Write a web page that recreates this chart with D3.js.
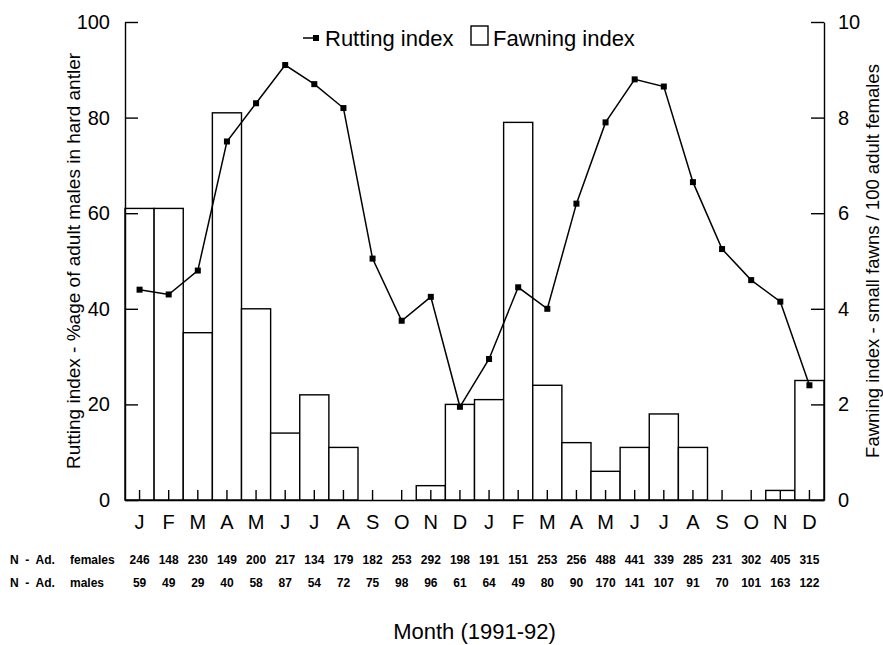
<!DOCTYPE html>
<html>
<head>
<meta charset="utf-8">
<script src="https://cdn.jsdelivr.net/npm/d3@7"></script>
<style>
  body { margin: 0; background: #fff; }
  text { font-family: "Liberation Sans", Arial, Helvetica, sans-serif; fill: #000; }
</style>
</head>
<body>
<div id="chart"></div>
<script>
// data (1991-92)
var months = ["J","F","M","A","M","J","J","A","S","O","N","D",
              "J","F","M","A","M","J","J","A","S","O","N","D"];
var rutting = [44, 43, 48, 75, 83, 91, 87, 82, 50.5, 37.5, 42.5, 19.5,
               29.5, 44.5, 40, 62, 79, 88, 86.5, 66.5, 52.5, 46, 41.5, 24];
var fawning = [6.1, 6.1, 3.5, 8.1, 4.0, 1.4, 2.2, 1.1, 0, 0, 0.3, 2.0,
               2.1, 7.9, 2.4, 1.2, 0.6, 1.1, 1.8, 1.1, 0, 0, 0.2, 2.5];
var nFemales = [246, 148, 230, 149, 200, 217, 134, 179, 182, 253, 292, 198,
                191, 151, 253, 256, 488, 441, 339, 285, 231, 302, 405, 315];
var nMales = [59, 49, 29, 40, 58, 87, 54, 72, 75, 98, 96, 61,
              64, 49, 80, 90, 170, 141, 107, 91, 70, 101, 163, 122];
var leftTicks = [0, 20, 40, 60, 80, 100];
var rightTicks = [0, 2, 4, 6, 8, 10];

var width = 883, height = 645;
var plotLeft = 125, plotRight = 824, plotTop = 22, plotBottom = 500;

var svg = d3.select("#chart").append("svg")
  .attr("width", width)
  .attr("height", height);

var x = d3.scaleBand()
  .domain(d3.range(months.length))
  .range([plotLeft, plotRight])
  .padding(0);

var yL = d3.scaleLinear().domain([0, 100]).range([plotBottom, plotTop]);
var yR = d3.scaleLinear().domain([0, 10]).range([plotBottom, plotTop]);

// fawning bars
svg.append("g")
  .selectAll("rect")
  .data(fawning)
  .enter()
  .append("rect")
  .attr("x", function(d, i){ return x(i); })
  .attr("y", function(d){ return yR(d); })
  .attr("width", x.bandwidth())
  .attr("height", function(d){ return plotBottom - yR(d); })
  .attr("fill", "#fff")
  .attr("stroke", "#000")
  .attr("stroke-width", 1.4);

// axes, ticks pointing inwards
var axisL = svg.append("g")
  .attr("transform", "translate(" + plotLeft + ",0)")
  .call(d3.axisLeft(yL).tickValues(leftTicks).tickSize(-13).tickSizeOuter(0).tickPadding(15));

var axisR = svg.append("g")
  .attr("transform", "translate(" + plotRight + ",0)")
  .call(d3.axisRight(yR).tickValues(rightTicks).tickSize(-13).tickSizeOuter(0).tickPadding(14));

var axisB = svg.append("g")
  .attr("transform", "translate(0," + plotBottom + ")")
  .call(d3.axisBottom(x).tickFormat(function(i){ return months[i]; }).tickSize(-10).tickSizeOuter(0).tickPadding(15));

[axisL, axisR, axisB].forEach(function(a){
  a.selectAll("path, line").attr("stroke", "#000").attr("stroke-width", 1.4);
  a.selectAll("text").attr("font-size", 20).attr("fill", "#000")
    .style("font-family", "'Liberation Sans', Arial, sans-serif");
});

// rutting line
var line = d3.line()
  .x(function(d, i){ return x(i) + x.bandwidth() / 2; })
  .y(function(d){ return yL(d); });

svg.append("path")
  .datum(rutting)
  .attr("d", line)
  .attr("fill", "none")
  .attr("stroke", "#000")
  .attr("stroke-width", 1.5);

svg.append("g")
  .selectAll("rect")
  .data(rutting)
  .enter()
  .append("rect")
  .attr("x", function(d, i){ return x(i) + x.bandwidth() / 2 - 3; })
  .attr("y", function(d){ return yL(d) - 3; })
  .attr("width", 6)
  .attr("height", 6)
  .attr("fill", "#000");

// legend
var legend = svg.append("g");
legend.append("line")
  .attr("x1", 303).attr("x2", 318).attr("y1", 38).attr("y2", 38)
  .attr("stroke", "#000").attr("stroke-width", 1.5);
legend.append("rect")
  .attr("x", 313).attr("y", 35).attr("width", 6).attr("height", 6).attr("fill", "#000");
legend.append("text")
  .attr("x", 325).attr("y", 46).attr("font-size", 22).text("Rutting index");
legend.append("rect")
  .attr("x", 471).attr("y", 26).attr("width", 17).attr("height", 19)
  .attr("fill", "#fff").attr("stroke", "#000").attr("stroke-width", 1.4);
legend.append("text")
  .attr("x", 493).attr("y", 46).attr("font-size", 22).text("Fawning index");

// axis titles
svg.append("text")
  .attr("transform", "translate(80," + ((plotTop + plotBottom) / 2) + ") rotate(-90)")
  .attr("text-anchor", "middle")
  .attr("font-size", 19)
  .text("Rutting index - %age of adult males in hard antler");

svg.append("text")
  .attr("transform", "translate(879," + ((plotTop + plotBottom) / 2) + ") rotate(-90)")
  .attr("text-anchor", "middle")
  .attr("font-size", 18.5)
  .text("Fawning index - small fawns / 100 adult females");

svg.append("text")
  .attr("x", (plotLeft + plotRight) / 2)
  .attr("y", 639)
  .attr("text-anchor", "middle")
  .attr("font-size", 22)
  .text("Month (1991-92)");

// sample size rows
var rows = [["females", nFemales, 564], ["males", nMales, 587]];
rows.forEach(function(r){
  var g = svg.append("g").attr("font-weight", "bold").attr("font-size", 12);
  g.append("text").attr("x", 10).attr("y", r[2])
    .style("white-space", "pre").text("N  -  Ad.");
  g.append("text").attr("x", 70).attr("y", r[2]).text(r[0]);
  g.selectAll(".n")
    .data(r[1])
    .enter()
    .append("text")
    .attr("x", function(d, i){ return x(i) + x.bandwidth() / 2; })
    .attr("y", r[2])
    .attr("text-anchor", "middle")
    .text(function(d){ return d; });
});
</script>
</body>
</html>
